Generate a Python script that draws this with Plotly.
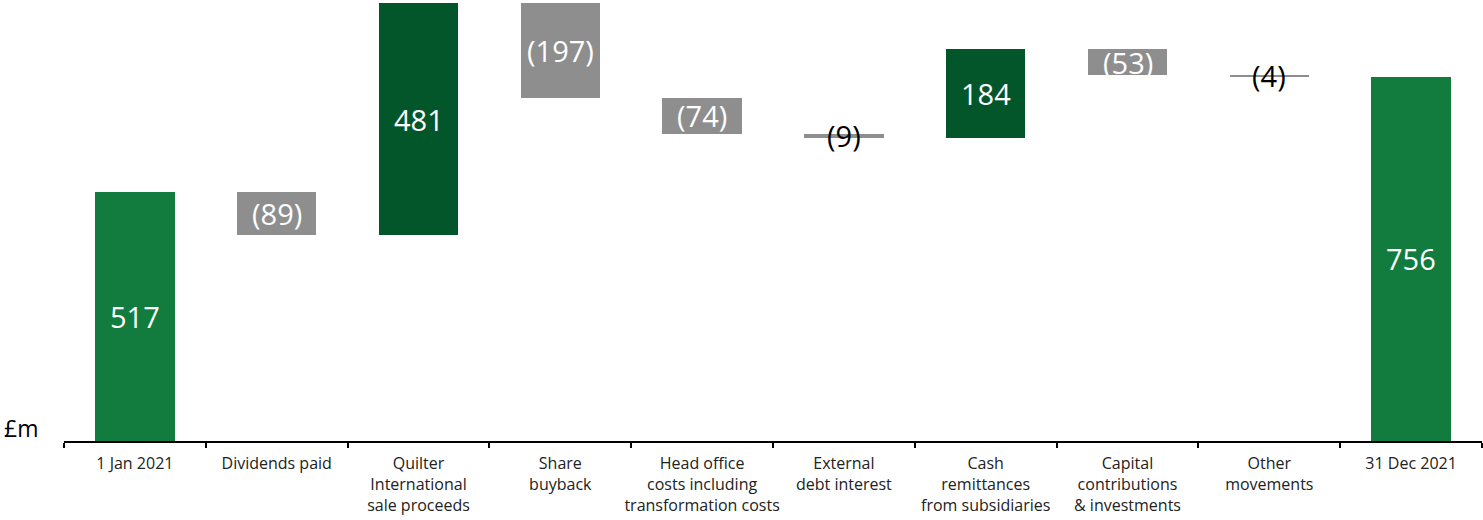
import plotly.graph_objects as go

categories = ["1 Jan 2021", "Dividends paid", "Quilter<br>International<br>sale proceeds",
              "Share<br>buyback", "Head office<br>costs including<br>transformation costs",
              "External<br>debt interest", "Cash<br>remittances<br>from subsidiaries",
              "Capital<br>contributions<br>& investments", "Other<br>movements", "31 Dec 2021"]
values = [517, -89, 481, -197, -74, -9, 184, -53, -4, 756]
kinds = ["total", "delta", "delta", "delta", "delta", "delta", "delta", "delta", "delta", "total"]
labels = ["517", "(89)", "481", "(197)", "(74)", "(9)", "184", "(53)", "(4)", "756"]

COL_TOTAL = "#127B3E"
COL_UP = "#03562A"
COL_DOWN = "#8E8E8E"

bases, heights, colors, mids = [], [], [], []
running = 0
for v, k in zip(values, kinds):
    if k == "total":
        b, h = 0, v
        running = v
        c = COL_TOTAL
    else:
        if v >= 0:
            b, h = running, v
            c = COL_UP
        else:
            b, h = running + v, -v
            c = COL_DOWN
        running += v
    bases.append(b)
    heights.append(h)
    colors.append(c)
    mids.append(b + h / 2)

fig = go.Figure()
fig.add_trace(go.Bar(x=categories, y=heights, base=bases,
                     marker=dict(color=colors, line=dict(width=0)),
                     width=0.56, hoverinfo="skip"))

for cat, lab, m, h in zip(categories, labels, mids, heights):
    fig.add_annotation(x=cat, y=m, text=lab, showarrow=False, xref="x", yref="y",
                       font=dict(family="Open Sans", size=29,
                                 color="black" if h < 20 else "white"))

fig.add_annotation(x=-0.0437, xanchor="left", xref="paper", y=27, yref="y", text="£m",
                   showarrow=False, font=dict(family="Open Sans", size=23, color="black"))

fig.update_layout(
    width=1483, height=520,
    margin=dict(l=64, r=1, t=2, b=79),
    plot_bgcolor="white", paper_bgcolor="white",
    showlegend=False, bargap=0,
    xaxis=dict(type="category", range=[-0.5, 9.5], automargin=False, tickangle=0,
               showline=True, linecolor="black", linewidth=1.5, showgrid=False, zeroline=False,
               ticks="outside", tickson="boundaries", ticklen=5, tickwidth=1.5, tickcolor="black",
               ticklabelstandoff=7,
               tickfont=dict(family="Open Sans", size=16, color="#222")),
    yaxis=dict(range=[0, 911.5], visible=False, showgrid=False, zeroline=False, automargin=False),
)

fig.write_html("out.html", config={"displayModeBar": False},
               post_script="document.body.style.margin='0';")
